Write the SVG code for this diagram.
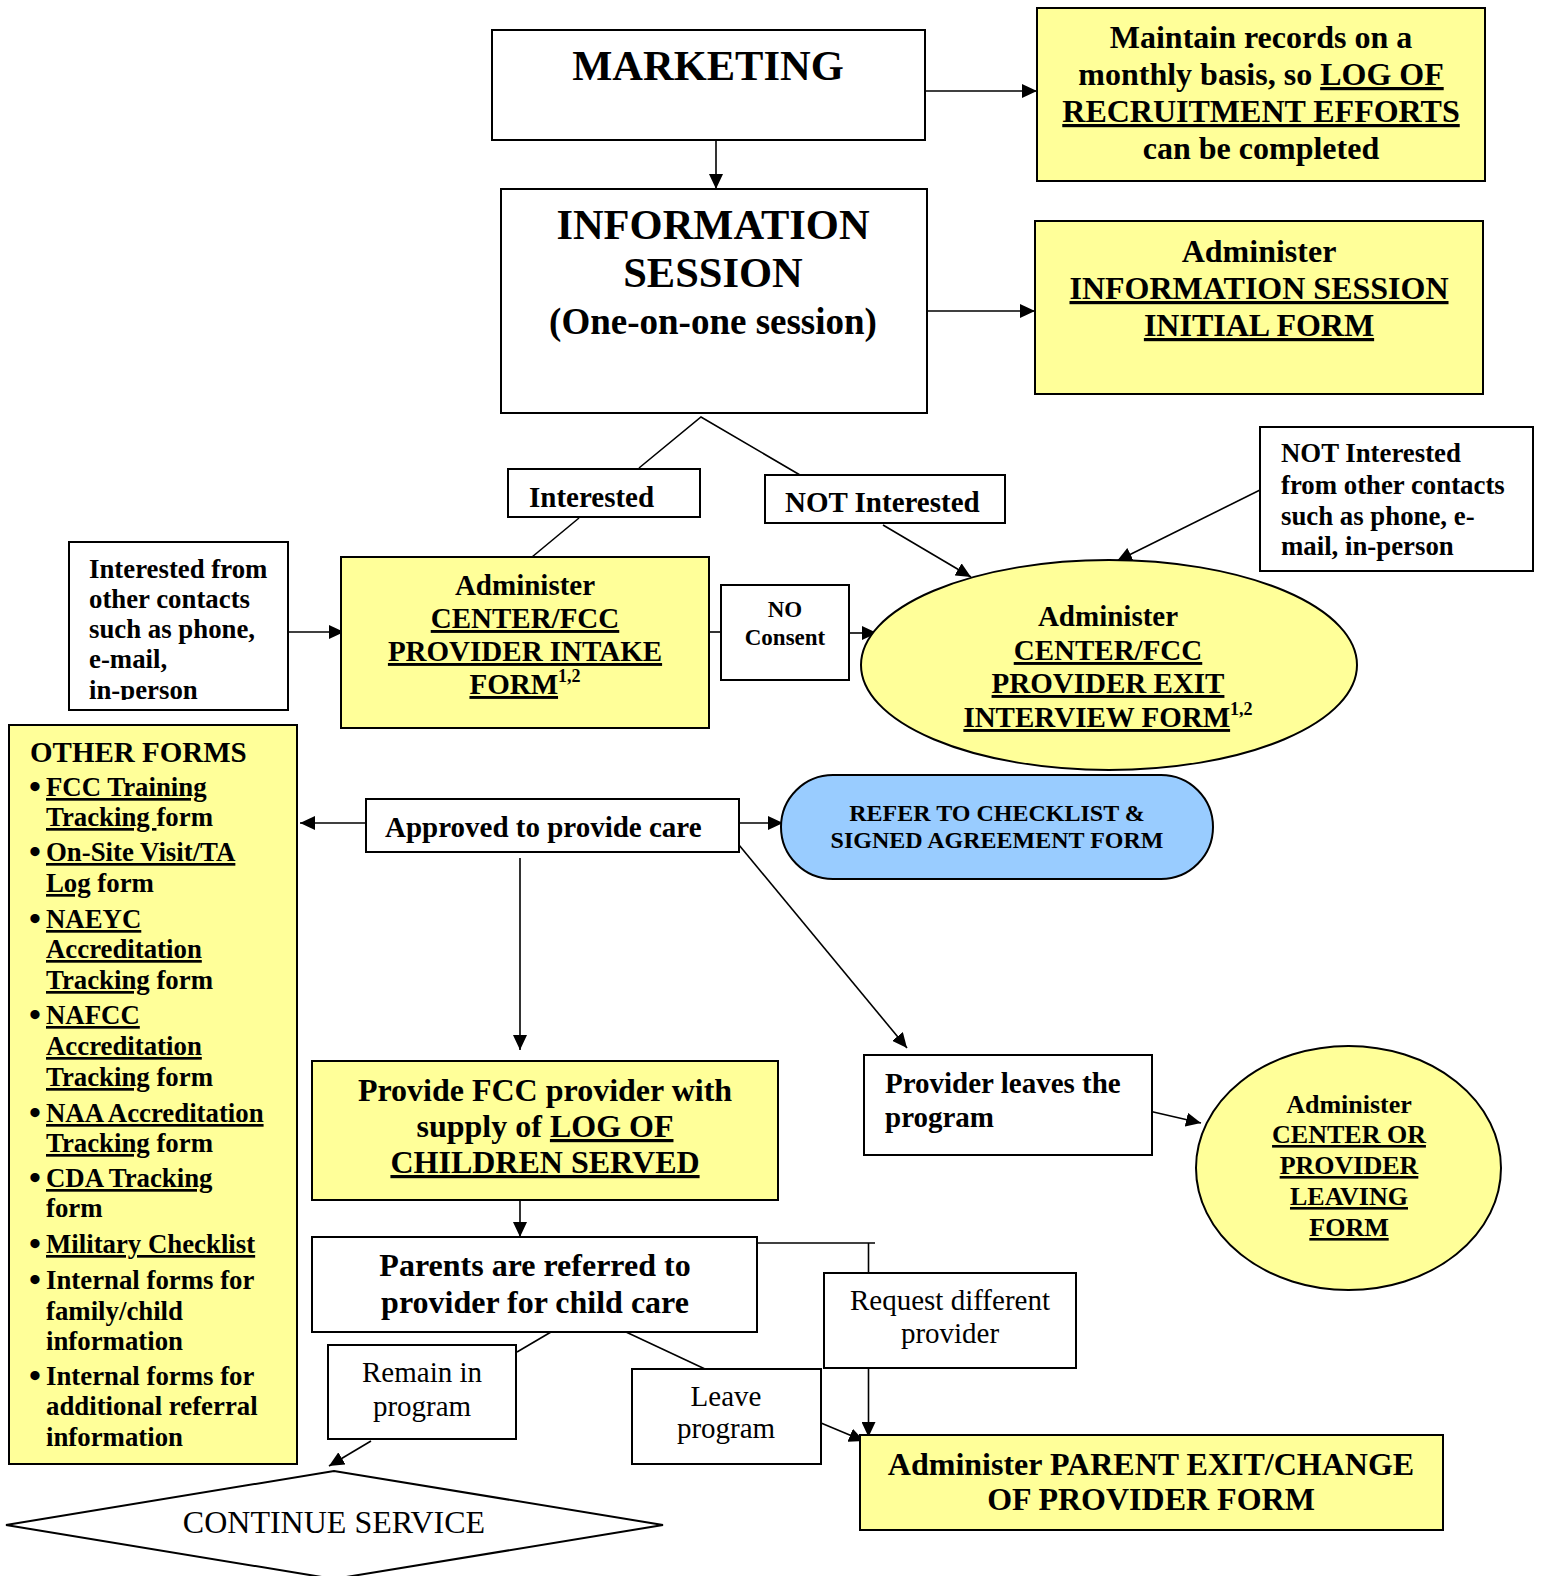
<svg xmlns="http://www.w3.org/2000/svg" width="1546" height="1576" viewBox="0 0 1546 1576">
<defs>
<style>
.b{font-family:"Liberation Serif","Times New Roman",serif;font-weight:bold;fill:#000}
.r{font-family:"Liberation Serif","Times New Roman",serif;font-weight:normal;fill:#000}
.m{text-anchor:middle}
.u{text-decoration:underline;text-decoration-thickness:3px}
.box{fill:#fff;stroke:#000;stroke-width:2}
.yel{fill:#ffff99;stroke:#000;stroke-width:2}
.blue{fill:#99ccff;stroke:#000;stroke-width:2}
.ln{stroke:#000;stroke-width:1.6;fill:none}
.f42{font-size:42.5px}.f37{font-size:37px}.f32{font-size:32px}.f29{font-size:29px}.f27{font-size:26.8px}.f26{font-size:26px}.f24{font-size:24px}.f23{font-size:23px}
.sup{font-size:18px}
.bul{font-size:34px}
</style>
<marker id="ah" markerUnits="userSpaceOnUse" markerWidth="15" markerHeight="14" refX="15" refY="7" orient="auto">
<path d="M0,0 L15,7 L0,14 z" fill="#000"/>
</marker>
<clipPath id="clipInt"><rect x="69" y="542" width="219" height="158"/></clipPath>
</defs>

<g id="connectors">
<line class="ln" x1="716" y1="140" x2="716" y2="189" marker-end="url(#ah)"/>
<line class="ln" x1="925" y1="91" x2="1037" y2="91" marker-end="url(#ah)"/>
<line class="ln" x1="927" y1="311" x2="1035" y2="311" marker-end="url(#ah)"/>
<polyline class="ln" points="639,468 701,417 800,475"/>
<line class="ln" x1="579" y1="518" x2="532" y2="557"/>
<line class="ln" x1="883" y1="525" x2="971" y2="577" marker-end="url(#ah)"/>
<line class="ln" x1="1260" y1="490" x2="1117" y2="561" marker-end="url(#ah)"/>
<line class="ln" x1="288" y1="632" x2="344" y2="632" marker-end="url(#ah)"/>
<line class="ln" x1="700" y1="632" x2="721" y2="632"/>
<line class="ln" x1="849" y1="633" x2="877" y2="633" marker-end="url(#ah)"/>
<line class="ln" x1="366" y1="823" x2="300" y2="823" marker-end="url(#ah)"/>
<line class="ln" x1="739" y1="823" x2="783" y2="823" marker-end="url(#ah)"/>
<line class="ln" x1="520" y1="858" x2="520" y2="1050" marker-end="url(#ah)"/>
<line class="ln" x1="739" y1="845" x2="907" y2="1048" marker-end="url(#ah)"/>
<line class="ln" x1="1149" y1="1111" x2="1201" y2="1123" marker-end="url(#ah)"/>
<line class="ln" x1="520" y1="1200" x2="520" y2="1237" marker-end="url(#ah)"/>
<line class="ln" x1="753" y1="1243" x2="875" y2="1243"/>
<line class="ln" x1="868.5" y1="1243" x2="868.5" y2="1273"/>
<line class="ln" x1="868.5" y1="1368" x2="868.5" y2="1437" marker-end="url(#ah)"/>
<line class="ln" x1="821" y1="1423" x2="864" y2="1441" marker-end="url(#ah)"/>
<line class="ln" x1="551" y1="1332" x2="517" y2="1352"/>
<line class="ln" x1="626" y1="1332" x2="705" y2="1369"/>
<line class="ln" x1="371" y1="1441" x2="329" y2="1466" marker-end="url(#ah)"/>
</g>

<g id="marketing">
<rect class="box" x="492" y="30" width="433" height="110"/>
<text class="b m f42" x="708" y="80">MARKETING</text>
</g>

<g id="info-session">
<rect class="box" x="501" y="189" width="426" height="224"/>
<text class="b m f42" x="713" y="239">INFORMATION</text>
<text class="b m f42" x="713" y="287">SESSION</text>
<text class="b m f37" x="713" y="334">(One-on-one session)</text>
</g>

<g id="recruit-log">
<rect class="yel" x="1037" y="8" width="448" height="173"/>
<text class="b m f32" x="1261" y="48">Maintain records on a</text>
<text class="b m f32" x="1261" y="85">monthly basis, so <tspan class="u">LOG OF</tspan></text>
<text class="b m f32" x="1261" y="122"><tspan class="u">RECRUITMENT EFFORTS</tspan></text>
<text class="b m f32" x="1261" y="159">can be completed</text>
</g>

<g id="info-form">
<rect class="yel" x="1035" y="221" width="448" height="173"/>
<text class="b m f32" x="1259" y="262">Administer</text>
<text class="b m f32" x="1259" y="299"><tspan class="u">INFORMATION SESSION</tspan></text>
<text class="b m f32" x="1259" y="336"><tspan class="u">INITIAL FORM</tspan></text>
</g>

<g id="interested">
<rect class="box" x="508" y="469" width="192" height="48"/>
<text class="b f29" x="529" y="507">Interested</text>
</g>

<g id="not-interested">
<rect class="box" x="765" y="475" width="240" height="48"/>
<text class="b f29" x="785" y="512">NOT Interested</text>
</g>

<g id="interested-other">
<rect class="box" x="69" y="542" width="219" height="168"/>
<g clip-path="url(#clipInt)">
<text class="b f27" x="89" y="578">Interested from</text>
<text class="b f27" x="89" y="608">other contacts</text>
<text class="b f27" x="89" y="638">such as phone,</text>
<text class="b f27" x="89" y="668">e-mail,</text>
<text class="b f27" x="89" y="699">in-person</text>
</g>
</g>

<g id="intake-form">
<rect class="yel" x="341" y="557" width="368" height="171"/>
<text class="b m f29" x="525" y="595">Administer</text>
<text class="b m f29" x="525" y="628"><tspan class="u">CENTER/FCC</tspan></text>
<text class="b m f29" x="525" y="661"><tspan class="u">PROVIDER INTAKE</tspan></text>
<text class="b m f29" x="525" y="694"><tspan class="u">FORM</tspan><tspan class="sup" dy="-12">1,2</tspan></text>
</g>

<g id="no-consent">
<rect class="box" x="721" y="585" width="128" height="95"/>
<text class="b m f23" x="785" y="617">NO</text>
<text class="b m f23" x="785" y="645">Consent</text>
</g>

<g id="not-interested-other">
<rect class="box" x="1260" y="427" width="273" height="144"/>
<text class="b f27" x="1281" y="462">NOT Interested</text>
<text class="b f27" x="1281" y="494">from other contacts</text>
<text class="b f27" x="1281" y="525">such as phone, e-</text>
<text class="b f27" x="1281" y="555">mail, in-person</text>
</g>

<g id="exit-interview">
<ellipse class="yel" cx="1109" cy="665" rx="248" ry="105"/>
<text class="b m f29" x="1108" y="626">Administer</text>
<text class="b m f29" x="1108" y="660"><tspan class="u">CENTER/FCC</tspan></text>
<text class="b m f29" x="1108" y="693"><tspan class="u">PROVIDER EXIT</tspan></text>
<text class="b m f29" x="1108" y="727"><tspan class="u">INTERVIEW FORM</tspan><tspan class="sup" dy="-12">1,2</tspan></text>
</g>

<g id="other-forms">
<rect class="yel" x="9" y="725" width="288" height="739"/>
<text class="b f29" x="30" y="762">OTHER FORMS</text>
<g class="b f27">
<text x="29" y="796"><tspan class="bul" dy="2">•</tspan><tspan x="46" dy="-2" class="u">FCC Training</tspan></text>
<text x="46" y="826"><tspan class="u">Tracking </tspan>form</text>
<text x="29" y="861"><tspan class="bul" dy="2">•</tspan><tspan x="46" dy="-2" class="u">On-Site Visit/TA</tspan></text>
<text x="46" y="892"><tspan class="u">Log</tspan> form</text>
<text x="29" y="928"><tspan class="bul" dy="2">•</tspan><tspan x="46" dy="-2" class="u">NAEYC</tspan></text>
<text x="46" y="958"><tspan class="u">Accreditation</tspan></text>
<text x="46" y="989"><tspan class="u">Tracking</tspan> form</text>
<text x="29" y="1024"><tspan class="bul" dy="2">•</tspan><tspan x="46" dy="-2" class="u">NAFCC</tspan></text>
<text x="46" y="1055"><tspan class="u">Accreditation</tspan></text>
<text x="46" y="1086"><tspan class="u">Tracking</tspan> form</text>
<text x="29" y="1122"><tspan class="bul" dy="2">•</tspan><tspan x="46" dy="-2" class="u">NAA Accreditation</tspan></text>
<text x="46" y="1152"><tspan class="u">Tracking</tspan> form</text>
<text x="29" y="1187"><tspan class="bul" dy="2">•</tspan><tspan x="46" dy="-2" class="u">CDA Tracking</tspan></text>
<text x="46" y="1217">form</text>
<text x="29" y="1253"><tspan class="bul" dy="2">•</tspan><tspan x="46" dy="-2" class="u">Military Checklist</tspan></text>
<text x="29" y="1289"><tspan class="bul" dy="2">•</tspan><tspan x="46" dy="-2">Internal forms for</tspan></text>
<text x="46" y="1320">family/child</text>
<text x="46" y="1350">information</text>
<text x="29" y="1385"><tspan class="bul" dy="2">•</tspan><tspan x="46" dy="-2">Internal forms for</tspan></text>
<text x="46" y="1415">additional referral</text>
<text x="46" y="1446">information</text>
</g>
</g>

<g id="approved">
<rect class="box" x="366" y="799" width="373" height="53"/>
<text class="b f29" x="385" y="837">Approved to provide care</text>
</g>

<g id="refer-checklist">
<rect class="blue" x="781" y="775" width="432" height="104" rx="52" ry="52"/>
<text class="b m f24" x="997" y="821">REFER TO CHECKLIST &amp;</text>
<text class="b m f24" x="997" y="848">SIGNED AGREEMENT FORM</text>
</g>

<g id="provide-log">
<rect class="yel" x="312" y="1061" width="466" height="139"/>
<text class="b m f32" x="545" y="1101">Provide FCC provider with</text>
<text class="b m f32" x="545" y="1137">supply of <tspan class="u">LOG OF</tspan></text>
<text class="b m f32" x="545" y="1173"><tspan class="u">CHILDREN SERVED</tspan></text>
</g>

<g id="parents-referred">
<rect class="box" x="312" y="1237" width="445" height="95"/>
<text class="b m f32" x="535" y="1276">Parents are referred to</text>
<text class="b m f32" x="535" y="1313">provider for child care</text>
</g>

<g id="provider-leaves">
<rect class="box" x="864" y="1055" width="288" height="100"/>
<text class="b f29" x="885" y="1093">Provider leaves the</text>
<text class="b f29" x="885" y="1127">program</text>
</g>

<g id="leaving-form">
<ellipse class="yel" cx="1348.5" cy="1168" rx="152.5" ry="122"/>
<text class="b m f26" x="1349" y="1113">Administer</text>
<text class="b m f26" x="1349" y="1143"><tspan class="u">CENTER OR</tspan></text>
<text class="b m f26" x="1349" y="1174"><tspan class="u">PROVIDER</tspan></text>
<text class="b m f26" x="1349" y="1205"><tspan class="u">LEAVING</tspan></text>
<text class="b m f26" x="1349" y="1236"><tspan class="u">FORM</tspan></text>
</g>

<g id="request-different">
<rect class="box" x="824" y="1273" width="252" height="95"/>
<text class="r m f29" x="950" y="1310">Request different</text>
<text class="r m f29" x="950" y="1343">provider</text>
</g>

<g id="remain">
<rect class="box" x="328" y="1345" width="188" height="94"/>
<text class="r m f29" x="422" y="1382">Remain in</text>
<text class="r m f29" x="422" y="1416">program</text>
</g>

<g id="leave">
<rect class="box" x="632" y="1369" width="189" height="95"/>
<text class="r m f29" x="726" y="1406">Leave</text>
<text class="r m f29" x="726" y="1438">program</text>
</g>

<g id="parent-exit">
<rect class="yel" x="860" y="1435" width="583" height="95"/>
<text class="b m f32" x="1151" y="1475">Administer PARENT EXIT/CHANGE</text>
<text class="b m f32" x="1151" y="1510">OF PROVIDER FORM</text>
</g>

<g id="continue-service">
<polygon class="box" points="6,1525 334,1471 663,1525 334,1579"/>
<text class="r m f32" x="334" y="1533">CONTINUE SERVICE</text>
</g>
</svg>
